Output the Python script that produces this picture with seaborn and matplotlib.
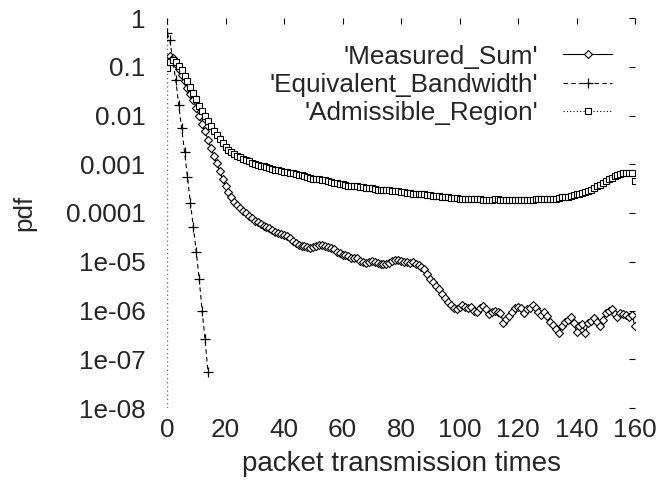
import numpy as np
import pandas as pd
import matplotlib
matplotlib.use("Agg")
import matplotlib.pyplot as plt
import seaborn as sns

# packet transmission times 0..160
times = list(range(161))

measured_sum = [
    0.13, 0.17, 0.15, 0.115, 0.092, 0.068, 0.05, 0.037, 0.028, 0.021,
    0.0145, 0.0098, 0.0068, 0.0047, 0.0032, 0.0022, 0.0015, 0.00105, 0.00072, 0.0005,
    3.6e-4, 2.7e-4, 2.1e-4, 1.7e-4, 1.45e-4, 1.26e-4, 1.12e-4, 1.0e-4, 8.8e-5, 7.8e-5,
    7.0e-5, 6.4e-5, 5.9e-5, 5.5e-5, 5.2e-5, 4.9e-5, 4.5e-5, 4.1e-5, 3.8e-5, 3.7e-5,
    3.6e-5, 3.4e-5, 3.1e-5, 2.7e-5, 2.4e-5, 2.2e-5, 2.1e-5, 2.1e-5, 2.0e-5, 1.9e-5,
    2.0e-5, 2.1e-5, 2.2e-5, 2.2e-5, 2.1e-5, 2.0e-5, 1.9e-5, 1.8e-5, 1.6e-5, 1.5e-5,
    1.4e-5, 1.35e-5, 1.3e-5, 1.2e-5, 1.18e-5, 1.2e-5, 1.05e-5, 9.8e-6, 9.6e-6, 1.0e-5,
    1.05e-5, 1.0e-5, 9.5e-6, 9.2e-6, 8.9e-6, 8.8e-6, 9.5e-6, 1.05e-5, 1.1e-5, 1.08e-5,
    1.04e-5, 1.0e-5, 9.8e-6, 9.5e-6, 1.0e-5, 9.2e-6, 8.5e-6, 7.8e-6, 7.2e-6, 5.5e-6,
    4.5e-6, 3.8e-6, 3.2e-6, 2.7e-6, 2.2e-6, 1.8e-6, 1.5e-6, 1.3e-6, 1.1e-6, 1.05e-6,
    1.2e-6, 1.3e-6, 1.2e-6, 1.1e-6, 1.2e-6, 1.0e-6, 9.5e-7, 1.1e-6, 1.25e-6, 1.05e-6,
    8.5e-7, 9.5e-7, 9.8e-7, 9.2e-7, 8.8e-7, 5.6e-7, 6.8e-7, 7.8e-7, 9.5e-7, 1.1e-6,
    1.2e-6, 1.1e-6, 9.0e-7, 1.05e-6, 1.1e-6, 1.3e-6, 1.1e-6, 9.5e-7, 8.2e-7, 9.2e-7,
    7.8e-7, 5.8e-7, 5.0e-7, 4.2e-7, 3.4e-7, 4.8e-7, 5.8e-7, 6.5e-7, 7.2e-7, 5.6e-7,
    3.7e-7, 4.7e-7, 5.2e-7, 3.4e-7, 5.5e-7, 6.0e-7, 7.0e-7, 5.8e-7, 4.8e-7, 6.5e-7,
    8.8e-7, 9.8e-7, 1.05e-6, 8.5e-7, 7.2e-7, 8.8e-7, 8.5e-7, 8.0e-7, 7.5e-7, 8.0e-7,
    4.7e-7,
]

equiv_times = list(range(15))
equivalent_bandwidth = [
    0.49, 0.35, 0.13, 0.053, 0.0165, 0.0055, 0.0018, 5.5e-4, 1.6e-4, 5.2e-5,
    1.6e-5, 4.5e-6, 9.8e-7, 2.6e-7, 5.5e-8,
]

admissible_region = [
    0.094, 0.125, 0.14, 0.125, 0.105, 0.085, 0.065, 0.05, 0.038, 0.029,
    0.022, 0.016, 0.0125, 0.0098, 0.0077, 0.0061, 0.0049, 0.0040, 0.0033, 0.0027,
    0.0023, 0.0020, 0.0018, 0.0016, 0.00148, 0.00138, 0.00129, 0.00121, 0.00114, 0.00108,
    0.00103, 9.8e-4, 9.4e-4, 9.0e-4, 8.7e-4, 8.4e-4, 8.1e-4, 7.8e-4, 7.5e-4, 7.3e-4,
    7.1e-4, 6.9e-4, 6.7e-4, 6.5e-4, 6.3e-4, 6.1e-4, 5.9e-4, 5.7e-4, 5.5e-4, 5.3e-4,
    5.1e-4, 5.0e-4, 4.9e-4, 4.8e-4, 4.7e-4, 4.6e-4, 4.4e-4, 4.2e-4, 4.1e-4, 4.0e-4,
    3.9e-4, 3.7e-4, 3.6e-4, 3.6e-4, 3.5e-4, 3.5e-4, 3.4e-4, 3.4e-4, 3.3e-4, 3.3e-4,
    3.2e-4, 3.1e-4, 3.0e-4, 3.0e-4, 3.0e-4, 2.9e-4, 2.9e-4, 2.8e-4, 2.8e-4, 2.8e-4,
    2.7e-4, 2.7e-4, 2.6e-4, 2.6e-4, 2.5e-4, 2.5e-4, 2.4e-4, 2.4e-4, 2.4e-4, 2.3e-4,
    2.3e-4, 2.2e-4, 2.2e-4, 2.2e-4, 2.1e-4, 2.1e-4, 2.1e-4, 2.0e-4, 2.0e-4, 2.0e-4,
    1.92e-4, 1.9e-4, 1.9e-4, 1.9e-4, 1.9e-4, 1.9e-4, 1.9e-4, 1.9e-4, 1.88e-4, 1.88e-4,
    1.88e-4, 1.88e-4, 1.9e-4, 1.9e-4, 1.88e-4, 1.86e-4, 1.86e-4, 1.85e-4, 1.85e-4, 1.85e-4,
    1.85e-4, 1.85e-4, 1.85e-4, 1.86e-4, 1.88e-4, 1.88e-4, 1.9e-4, 1.9e-4, 1.9e-4, 1.9e-4,
    1.92e-4, 1.93e-4, 1.95e-4, 1.96e-4, 2.0e-4, 2.1e-4, 2.1e-4, 2.1e-4, 2.2e-4, 2.3e-4,
    2.4e-4, 2.5e-4, 2.6e-4, 2.7e-4, 2.8e-4, 3.0e-4, 3.2e-4, 3.5e-4, 3.8e-4, 4.1e-4,
    4.5e-4, 4.9e-4, 5.3e-4, 5.7e-4, 6.0e-4, 6.3e-4, 6.5e-4, 6.6e-4, 6.7e-4, 6.6e-4,
    4.5e-4,
]

y_ticks = [1, 0.1, 0.01, 0.001, 1e-4, 1e-5, 1e-6, 1e-7, 1e-8]
y_tick_labels = ["1", "0.1", "0.01", "0.001", "0.0001", "1e-05", "1e-06", "1e-07", "1e-08"]
x_ticks = [0, 20, 40, 60, 80, 100, 120, 140, 160]

sns.set_style("white")
plt.rcParams['font.family'] = ['Liberation Sans', 'DejaVu Sans']
fs = 18.8

fig = plt.figure(figsize=(6.63, 4.83), dpi=100)
ax = fig.add_axes([167/663, 1-408/483, 468/663, 390/483])

ms_df = pd.DataFrame({"t": times, "pdf": measured_sum})
eb_df = pd.DataFrame({"t": equiv_times, "pdf": equivalent_bandwidth})
ar_df = pd.DataFrame({"t": times, "pdf": admissible_region})

# gnuplot style zero axis
ax.axvline(0, color="0.45", lw=1.0, ls=(0, (1, 2)), zorder=0)

sns.lineplot(data=ms_df, x="t", y="pdf", ax=ax, color="k", lw=0.8,
             marker="D", markersize=3.6, mfc="white", mec="k", mew=0.8,
             label="'Measured_Sum'")
sns.lineplot(data=eb_df, x="t", y="pdf", ax=ax, color="k", lw=0.8,
             linestyle=(0, (4, 3)), marker="+", markersize=6.5, mec="k", mew=0.9,
             label="'Equivalent_Bandwidth'")
sns.lineplot(data=ar_df, x="t", y="pdf", ax=ax, color="k", lw=0.8,
             linestyle=(0, (1, 2)), marker="s", markersize=4.6, mfc="white", mec="k", mew=0.8,
             label="'Admissible_Region'")

ax.set_yscale("log")
ax.set_xlim(0, 160)
ax.set_ylim(1e-8, 1)
ax.set_yticks(y_ticks)
ax.set_yticklabels(y_tick_labels)
ax.yaxis.set_minor_locator(matplotlib.ticker.LogLocator(base=10, subs=(2, 5)))
ax.yaxis.set_minor_formatter(matplotlib.ticker.NullFormatter())
ax.set_xticks(x_ticks)
ax.set_xticklabels([str(v) for v in x_ticks])

for s in ax.spines.values():
    s.set_visible(False)

ax.tick_params(axis="both", which="both", direction="in", top=True, right=True,
               color="k", width=0.8, labelsize=fs)
ax.tick_params(axis="both", which="major", length=4.5)
ax.tick_params(axis="both", which="minor", length=2.2)
ax.tick_params(axis="y", which="major", pad=15.5)
ax.tick_params(axis="x", which="major", pad=7.5)

ax.set_xlabel("packet transmission times", fontsize=20, labelpad=6)
ax.set_ylabel("pdf", fontsize=fs)
ax.yaxis.set_label_coords(-0.28, 0.5)

leg = ax.legend(loc="upper right", bbox_to_anchor=(0.951, 0.932), frameon=False,
                markerfirst=False, fontsize=fs, handlelength=1.88, handletextpad=0.96,
                labelspacing=0.16, borderaxespad=0, borderpad=0, numpoints=1)

fig.savefig("out.png", dpi=100)
